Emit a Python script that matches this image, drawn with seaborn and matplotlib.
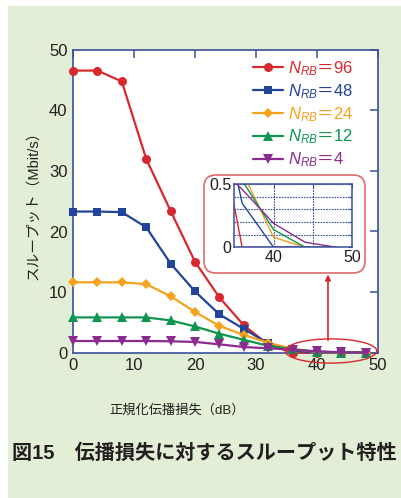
import matplotlib
matplotlib.use("Agg")
import matplotlib.pyplot as plt
import seaborn as sns
from matplotlib.patches import Ellipse, FancyBboxPatch, Rectangle
from matplotlib.transforms import IdentityTransform

# data
loss_db = [0, 4, 8, 12, 16, 20, 24, 28, 32, 36, 40, 44, 48]
nrb_96 = [46.6, 46.6, 44.8, 32.0, 23.4, 15.0, 9.1, 4.5, 1.3, 0.0, 0.0, 0.0, 0.0]
nrb_48 = [23.3, 23.3, 23.2, 20.7, 14.7, 10.1, 6.3, 3.9, 1.5, 0.35, 0.0, 0.0, 0.0]
nrb_24 = [11.6, 11.6, 11.6, 11.3, 9.3, 6.7, 4.4, 2.9, 1.6, 0.6, 0.08, 0.0, 0.0]
nrb_12 = [5.8, 5.8, 5.8, 5.8, 5.3, 4.3, 3.1, 2.1, 1.1, 0.53, 0.14, 0.0, 0.0]
nrb_4 = [1.9, 1.9, 1.9, 1.9, 1.85, 1.75, 1.35, 0.9, 0.7, 0.46, 0.19, 0.04, 0.0]

series_values = [nrb_96, nrb_48, nrb_24, nrb_12, nrb_4]
series_labels = [r"$N_{RB}\mathrm{＝}$96", r"$N_{RB}\mathrm{＝}$48", r"$N_{RB}\mathrm{＝}$24",
                 r"$N_{RB}\mathrm{＝}$12", r"$N_{RB}\mathrm{＝}$4"]
colors = ["#d8282f", "#22449a", "#f6a21c", "#0e9550", "#8b2b8f"]
markers = ["o", "s", "D", "^", "v"]
marker_sizes = [6.5, 6, 5.5, 7, 7]

sns.set_style("white")
plt.rcParams["font.family"] = ["Liberation Sans", "Noto Sans CJK JP"]
plt.rcParams["mathtext.fontset"] = "custom"
plt.rcParams["mathtext.rm"] = "Noto Sans CJK JP"
plt.rcParams["mathtext.it"] = "Liberation Sans:italic"

spine_col = "#3b4f9c"
text_col = "#231f20"
W, H = 402, 498

fig = plt.figure(figsize=(W / 100, H / 100), dpi=100)
fig.patch.set_facecolor("white")
fig.add_artist(Rectangle((8, 0), W - 8, H - 6, transform=IdentityTransform(),
                         facecolor="#e2eed5", edgecolor="none", zorder=-10))

ax = fig.add_axes([73 / W, 1 - 352.5 / H, 305 / W, 302.5 / H])
ax.set_facecolor("white")
for vals, lbl, c, m, ms in zip(series_values, series_labels, colors, markers, marker_sizes):
    sns.lineplot(x=loss_db, y=vals, ax=ax, color=c, marker=m, markersize=ms,
                 markeredgecolor=c, markeredgewidth=0, linewidth=1.6,
                 label=lbl, clip_on=False, zorder=3)

ax.set_xlim(0, 50)
ax.set_ylim(0, 50)
ax.set_xticks(range(0, 51, 10))
ax.set_yticks(range(0, 51, 10))
ax.tick_params(direction="in", length=6, width=1.1, color=spine_col,
               top=True, right=True, labelsize=12, labelcolor=text_col, pad=4)
for s in ax.spines.values():
    s.set_color(spine_col)
    s.set_linewidth(1.2)
ax.set_xlabel("")
ax.set_ylabel("")

leg = ax.legend(loc="upper right", bbox_to_anchor=(0.918, 0.97), frameon=False,
                fontsize=12, handlelength=1.8, handletextpad=0.3,
                labelspacing=0.25, borderaxespad=0, borderpad=0)
for t, c in zip(leg.get_texts(), colors):
    t.set_color(c)

# zoom marker and arrow
ax.add_patch(Ellipse((42.3, 0.25), 15, 4, fill=False, edgecolor="#d8282f",
                     linewidth=1, clip_on=False, zorder=4))
ax.annotate("", xy=(41.8, 12.9), xytext=(41.8, 2.0),
            arrowprops=dict(arrowstyle="-|>", color="#d8282f", lw=1.2,
                            mutation_scale=8, shrinkA=0, shrinkB=0))

# rounded box behind inset
fig.add_artist(FancyBboxPatch((204, H - 273), 161, 98,
                              boxstyle="round,pad=0,rounding_size=12",
                              transform=IdentityTransform(), facecolor="white",
                              edgecolor="#e06a6a", linewidth=1.2, zorder=0.5))

axin = fig.add_axes([234.3 / W, 1 - 247.3 / H, 118 / W, 63 / H], zorder=1)
for vals, c in zip(series_values, colors):
    sns.lineplot(x=loss_db, y=vals, ax=axin, color=c, linewidth=1.0)
axin.set_xlim(35, 50)
axin.set_ylim(0, 0.5)
axin.set_xticks([40, 45, 50])
axin.set_xticklabels(["40", "", "50"])
axin.set_yticks([0, 0.1, 0.2, 0.3, 0.4, 0.5])
axin.set_yticklabels(["0", "", "", "", "", "0.5"])
axin.grid(True, color=spine_col, linestyle=(0, (1.5, 1)), linewidth=0.8)
axin.tick_params(direction="in", length=3, width=0.8, color=spine_col,
                 top=True, right=True, labelsize=11.5, labelcolor=text_col, pad=2)
for s in axin.spines.values():
    s.set_color(spine_col)
    s.set_linewidth(1.1)
axin.set_xlabel("")
axin.set_ylabel("")

fig.text(33 / W, 1 - 202 / H, "スループット（Mbit/s）", rotation=90,
         ha="center", va="center", fontsize=10.5, color=text_col)
fig.text(177 / W, 1 - 410 / H, "正規化伝播損失（dB）", ha="center", va="center",
         fontsize=9.5, color=text_col)
fig.text(12 / W, 1 - 453 / H, "図15　伝播損失に対するスループット特性",
         ha="left", va="center", fontsize=14.5, fontweight="bold", color=text_col)

fig.savefig("out.png", dpi=100)
